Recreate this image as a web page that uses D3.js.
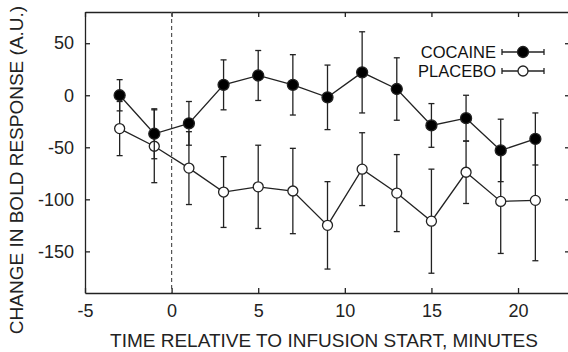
<!DOCTYPE html>
<html>
<head>
<meta charset="utf-8">
<script src="https://cdn.jsdelivr.net/npm/d3@7"></script>
<style>
  body { margin: 0; background: #fff; }
  svg { display: block; font-family: "Liberation Sans", Arial, sans-serif; }
  .axis path, .axis line { stroke: #222; stroke-width: 1.3; }
  .axis text { font-size: 18px; fill: #222; }
  .axis-label { font-size: 19px; fill: #222; }
  .legend text { font-size: 16.5px; fill: #111; }
</style>
</head>
<body>
<div id="chart"></div>
<script>
const times = [-3, -1, 1, 3, 5, 7, 9, 11, 13, 15, 17, 19, 21];
const cocaine = [0, -37, -27, 10, 19, 10, -2, 22, 6, -29, -22, -53, -42];
const cocaineErr = [15, 24, 21, 24, 24, 29, 31, 39, 30, 21, 22, 30, 25];
const placebo = [-32, -49, -70, -93, -88, -92, -125, -71, -94, -121, -74, -102, -101];
const placeboErr = [26, 35, 35, 34, 40, 41, 42, 35, 37, 50, 30, 50, 58];
const xTicks = [-5, 0, 5, 10, 15, 20];
const yTicks = [-150, -100, -50, 0, 50];

const W = 568, H = 352;
const margin = { top: 12, right: -2, bottom: 59, left: 85 };
const width = W - margin.left - margin.right;
const height = H - margin.top - margin.bottom;

const svg = d3.select('#chart').append('svg')
  .attr('width', W).attr('height', H)
  .append('g')
  .attr('transform', 'translate(' + margin.left + ',' + margin.top + ')');

const x = d3.scaleLinear().domain([-5, 23]).range([0, width]);
const y = d3.scaleLinear().domain([-190, 80]).range([height, 0]);
const fmt = d => String(d);

// frame + inward ticks
svg.append('g').attr('class', 'axis')
  .attr('transform', 'translate(0,' + height + ')')
  .call(d3.axisBottom(x).tickValues(xTicks).tickFormat(fmt).tickSize(-5).tickPadding(11).tickSizeOuter(0));
svg.append('g').attr('class', 'axis')
  .call(d3.axisTop(x).tickValues(xTicks).tickSize(-5).tickFormat('').tickSizeOuter(0));
svg.append('g').attr('class', 'axis')
  .call(d3.axisLeft(y).tickValues(yTicks).tickFormat(fmt).tickSize(-5).tickPadding(11).tickSizeOuter(0));
svg.append('g').attr('class', 'axis')
  .attr('transform', 'translate(' + width + ',0)')
  .call(d3.axisRight(y).tickValues(yTicks).tickSize(-5).tickFormat('').tickSizeOuter(0));

// infusion start
svg.append('line')
  .attr('x1', x(0)).attr('x2', x(0))
  .attr('y1', 0).attr('y2', height)
  .attr('stroke', '#555').attr('stroke-width', 1.2)
  .attr('stroke-dasharray', '4,3');

function drawSeries (vals, errs, filled) {
  const data = times.map((t, i) => ({ t: t, v: vals[i], e: errs[i] }));
  const g = svg.append('g');
  const bars = g.selectAll('.err').data(data).enter().append('g');
  bars.append('line')
    .attr('x1', d => x(d.t)).attr('x2', d => x(d.t))
    .attr('y1', d => y(d.v - d.e)).attr('y2', d => y(d.v + d.e))
    .attr('stroke', '#222').attr('stroke-width', 1.3);
  [-1, 1].forEach(s => {
    bars.append('line')
      .attr('x1', d => x(d.t) - 3).attr('x2', d => x(d.t) + 3)
      .attr('y1', d => y(d.v + s * d.e)).attr('y2', d => y(d.v + s * d.e))
      .attr('stroke', '#222').attr('stroke-width', 1.3);
  });
  g.append('path')
    .datum(data)
    .attr('fill', 'none').attr('stroke', '#222').attr('stroke-width', 1.3)
    .attr('d', d3.line().x(d => x(d.t)).y(d => y(d.v)));
  g.selectAll('circle').data(data).enter().append('circle')
    .attr('cx', d => x(d.t)).attr('cy', d => y(d.v))
    .attr('r', filled ? 5.5 : 5)
    .attr('fill', filled ? '#000' : '#fff')
    .attr('stroke', '#222').attr('stroke-width', 1.3);
}

drawSeries(placebo, placeboErr, false);
drawSeries(cocaine, cocaineErr, true);

// legend
const legend = svg.append('g').attr('class', 'legend');
[['COCAINE', true], ['PLACEBO', false]].forEach((it, i) => {
  const ly = 40 + i * 19;
  const lx = 417;
  legend.append('text').attr('x', lx - 6).attr('y', ly + 6)
    .attr('text-anchor', 'end').text(it[0]);
  legend.append('line').attr('x1', lx).attr('x2', lx + 42)
    .attr('y1', ly).attr('y2', ly).attr('stroke', '#222').attr('stroke-width', 1.3);
  [lx, lx + 42].forEach(cx => legend.append('line')
    .attr('x1', cx).attr('x2', cx).attr('y1', ly - 3).attr('y2', ly + 3)
    .attr('stroke', '#222').attr('stroke-width', 1.3));
  legend.append('circle').attr('cx', lx + 21).attr('cy', ly)
    .attr('r', it[1] ? 5.5 : 5)
    .attr('fill', it[1] ? '#000' : '#fff').attr('stroke', '#222').attr('stroke-width', 1.3);
});

// axis titles
svg.append('text').attr('class', 'axis-label')
  .attr('x', 324 - margin.left)
  .attr('y', height + 54)
  .attr('text-anchor', 'middle')
  .text('TIME RELATIVE TO INFUSION START, MINUTES');
svg.append('text').attr('class', 'axis-label')
  .attr('transform', 'rotate(-90)')
  .attr('x', -(170 - margin.top))
  .attr('y', -margin.left + 23)
  .attr('text-anchor', 'middle')
  .text('CHANGE IN BOLD RESPONSE (A.U.)');
</script>
</body>
</html>
